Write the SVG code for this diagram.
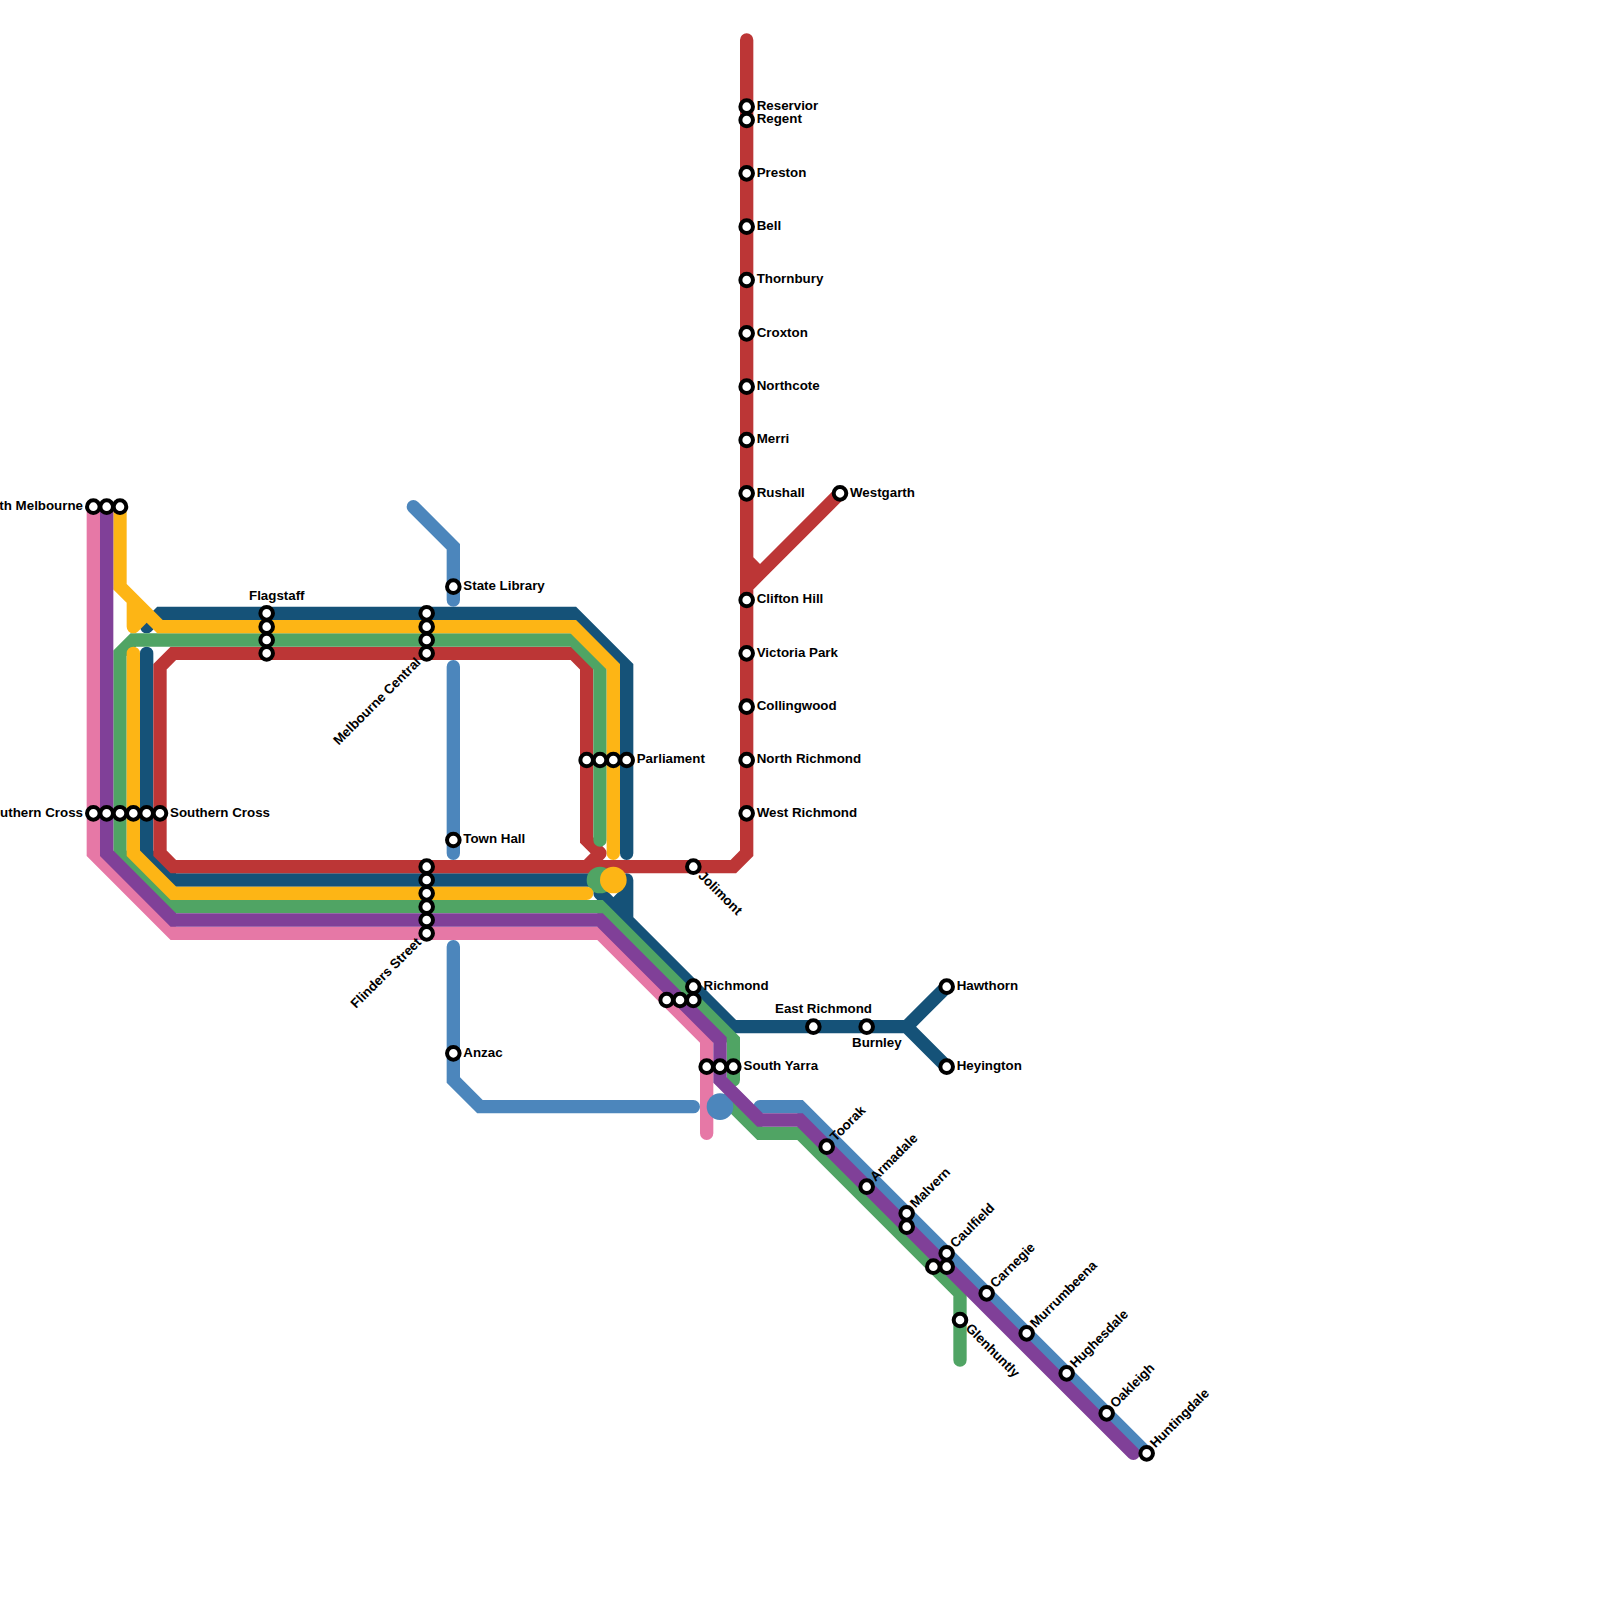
<svg xmlns="http://www.w3.org/2000/svg" width="1600" height="1600" viewBox="0 0 1600 1600">
<style>
.l{fill:none;stroke-width:1;stroke-linecap:round;stroke-linejoin:miter;stroke-miterlimit:10}
.navy{stroke:#155278}.pink{stroke:#E678A6}.blue{stroke:#4C86BC}.red{stroke:#BC3636}.green{stroke:#50A464}.yellow{stroke:#FDB515}.purple{stroke:#804098}
.s{fill:#fff;stroke:#000;stroke-width:4}
text{font-family:"Liberation Sans",Arial,sans-serif;font-weight:700;font-size:13.33px;fill:#000}
.e{text-anchor:end}
</style>
<rect width="1600" height="1600" fill="#fff"/>
<g id="connectors" transform="scale(13.33333)">
<path class="l navy" d="M11 49V64L13 66H45M11 47L12 46H43L47 50V64M47 66V69L55 77H68M71 74L68 77L71 80M45 67L47 69M46 68L47 67"/>
<path class="l pink" d="M7 38V64L13 70H45L53 78V85"/>
<path class="l blue" d="M31 38L34 41V45M34 50V64M34 71V81L36 83H52M57 83H60L86 109"/>
<path class="l red" d="M56 3V64L55 65H44M44 65L45 64M45 64L44 63V50L43 49H13L12 50V64L13 65H44M63 37L56 44M56 42L57 43"/>
<path class="l green" d="M45 63V50L43 48H10L9 49V64L13 68H45L55 78V81M54.5 82.5L57 85H60L72 97V102"/>
<circle cx="45" cy="66" r="1" fill="#50A464"/>
<circle cx="54" cy="83" r="1" fill="#4C86BC"/>
<path class="l yellow" d="M9 38V44L12 47H43L46 50V64M10 45V47M10 47L11 46M10 49V64L13 67H44"/>
<circle cx="46" cy="66" r="1" fill="#FDB515"/>
<path class="l purple" d="M8 38V64L13 69H45L54 78V81L57 84H60L85 109"/>
</g>
<g id="north-melbourne"><circle class="s" cx="93.33" cy="506.67" r="6.3"/><circle class="s" cx="106.67" cy="506.67" r="6.3"/><circle class="s" cx="120" cy="506.67" r="6.3"/><text class="e" x="83" y="510">North Melbourne</text></g>
<g id="southern-cross"><circle class="s" cx="93.33" cy="813.33" r="6.3"/><circle class="s" cx="106.67" cy="813.33" r="6.3"/><circle class="s" cx="120" cy="813.33" r="6.3"/><circle class="s" cx="133.33" cy="813.33" r="6.3"/><circle class="s" cx="146.67" cy="813.33" r="6.3"/><circle class="s" cx="160" cy="813.33" r="6.3"/><text class="e" x="83" y="816.5">Southern Cross</text><text x="170" y="816.5">Southern Cross</text></g>
<g id="flagstaff"><circle class="s" cx="266.67" cy="613.33" r="6.3"/><circle class="s" cx="266.67" cy="626.67" r="6.3"/><circle class="s" cx="266.67" cy="640" r="6.3"/><circle class="s" cx="266.67" cy="653.33" r="6.3"/><text x="249" y="600">Flagstaff</text></g>
<g id="melbourne-central"><circle class="s" cx="426.67" cy="613.33" r="6.3"/><circle class="s" cx="426.67" cy="626.67" r="6.3"/><circle class="s" cx="426.67" cy="640" r="6.3"/><circle class="s" cx="426.67" cy="653.33" r="6.3"/><text class="e" transform="translate(421.5 663) rotate(-45)">Melbourne Central</text></g>
<g id="flinders-street"><circle class="s" cx="426.67" cy="866.67" r="6.3"/><circle class="s" cx="426.67" cy="880" r="6.3"/><circle class="s" cx="426.67" cy="893.33" r="6.3"/><circle class="s" cx="426.67" cy="906.67" r="6.3"/><circle class="s" cx="426.67" cy="920" r="6.3"/><circle class="s" cx="426.67" cy="933.33" r="6.3"/><text class="e" transform="translate(422 943) rotate(-45)">Flinders Street</text></g>
<g id="state-library"><circle class="s" cx="453.33" cy="586.67" r="6.3"/><text x="463.3" y="590">State Library</text></g>
<g id="town-hall"><circle class="s" cx="453.33" cy="840" r="6.3"/><text x="463.3" y="843">Town Hall</text></g>
<g id="anzac"><circle class="s" cx="453.33" cy="1053.33" r="6.3"/><text x="463.3" y="1056.5">Anzac</text></g>
<g id="parliament"><circle class="s" cx="586.67" cy="760" r="6.3"/><circle class="s" cx="600" cy="760" r="6.3"/><circle class="s" cx="613.33" cy="760" r="6.3"/><circle class="s" cx="626.67" cy="760" r="6.3"/><text x="636.7" y="763">Parliament</text></g>
<g id="jolimont"><circle class="s" cx="693.33" cy="866.67" r="6.3"/><text transform="translate(697.5 876.5) rotate(45)">Jolimont</text></g>
<g id="richmond"><circle class="s" cx="693.33" cy="986.67" r="6.3"/><circle class="s" cx="666.67" cy="1000" r="6.3"/><circle class="s" cx="680" cy="1000" r="6.3"/><circle class="s" cx="693.33" cy="1000" r="6.3"/><text x="703.5" y="990">Richmond</text></g>
<g id="south-yarra"><circle class="s" cx="706.67" cy="1066.67" r="6.3"/><circle class="s" cx="720" cy="1066.67" r="6.3"/><circle class="s" cx="733.33" cy="1066.67" r="6.3"/><text x="743.5" y="1070">South Yarra</text></g>
<g id="reservior"><circle class="s" cx="746.67" cy="106.67" r="6.3"/><text x="756.7" y="110">Reservior</text></g>
<g id="regent"><circle class="s" cx="746.67" cy="120" r="6.3"/><text x="756.7" y="123">Regent</text></g>
<g id="preston"><circle class="s" cx="746.67" cy="173.33" r="6.3"/><text x="756.7" y="176.5">Preston</text></g>
<g id="bell"><circle class="s" cx="746.67" cy="226.67" r="6.3"/><text x="756.7" y="230">Bell</text></g>
<g id="thornbury"><circle class="s" cx="746.67" cy="280" r="6.3"/><text x="756.7" y="283">Thornbury</text></g>
<g id="croxton"><circle class="s" cx="746.67" cy="333.33" r="6.3"/><text x="756.7" y="336.5">Croxton</text></g>
<g id="northcote"><circle class="s" cx="746.67" cy="386.67" r="6.3"/><text x="756.7" y="390">Northcote</text></g>
<g id="merri"><circle class="s" cx="746.67" cy="440" r="6.3"/><text x="756.7" y="443">Merri</text></g>
<g id="rushall"><circle class="s" cx="746.67" cy="493.33" r="6.3"/><text x="756.7" y="496.5">Rushall</text></g>
<g id="westgarth"><circle class="s" cx="840" cy="493.33" r="6.3"/><text x="850" y="496.5">Westgarth</text></g>
<g id="clifton-hill"><circle class="s" cx="746.67" cy="600" r="6.3"/><text x="756.7" y="603">Clifton Hill</text></g>
<g id="victoria-park"><circle class="s" cx="746.67" cy="653.33" r="6.3"/><text x="756.7" y="656.5">Victoria Park</text></g>
<g id="collingwood"><circle class="s" cx="746.67" cy="706.67" r="6.3"/><text x="756.7" y="710">Collingwood</text></g>
<g id="north-richmond"><circle class="s" cx="746.67" cy="760" r="6.3"/><text x="756.7" y="763">North Richmond</text></g>
<g id="west-richmond"><circle class="s" cx="746.67" cy="813.33" r="6.3"/><text x="756.7" y="816.5">West Richmond</text></g>
<g id="east-richmond"><circle class="s" cx="813.33" cy="1026.67" r="6.3"/><text x="775" y="1013">East Richmond</text></g>
<g id="burnley"><circle class="s" cx="866.67" cy="1026.67" r="6.3"/><text x="852" y="1047">Burnley</text></g>
<g id="hawthorn"><circle class="s" cx="946.67" cy="986.67" r="6.3"/><text x="956.7" y="990">Hawthorn</text></g>
<g id="heyington"><circle class="s" cx="946.67" cy="1066.67" r="6.3"/><text x="956.7" y="1070">Heyington</text></g>
<g id="toorak"><circle class="s" cx="826.67" cy="1146.67" r="6.3"/><text transform="translate(835.5 1142) rotate(-45)">Toorak</text></g>
<g id="armadale"><circle class="s" cx="866.67" cy="1186.67" r="6.3"/><text transform="translate(875.5 1182) rotate(-45)">Armadale</text></g>
<g id="malvern"><circle class="s" cx="906.67" cy="1213.33" r="6.3"/><circle class="s" cx="906.67" cy="1226.67" r="6.3"/><text transform="translate(915.5 1208.5) rotate(-45)">Malvern</text></g>
<g id="caulfield"><circle class="s" cx="946.67" cy="1253.33" r="6.3"/><circle class="s" cx="933.33" cy="1266.67" r="6.3"/><circle class="s" cx="946.67" cy="1266.67" r="6.3"/><text transform="translate(955.5 1248.5) rotate(-45)">Caulfield</text></g>
<g id="carnegie"><circle class="s" cx="986.67" cy="1293.33" r="6.3"/><text transform="translate(995.5 1288.5) rotate(-45)">Carnegie</text></g>
<g id="glenhuntly"><circle class="s" cx="960" cy="1320" r="6.3"/><text transform="translate(965 1329) rotate(45)">Glenhuntly</text></g>
<g id="murrumbeena"><circle class="s" cx="1026.67" cy="1333.33" r="6.3"/><text transform="translate(1035.5 1328.5) rotate(-45)">Murrumbeena</text></g>
<g id="hughesdale"><circle class="s" cx="1066.67" cy="1373.33" r="6.3"/><text transform="translate(1075.5 1368.5) rotate(-45)">Hughesdale</text></g>
<g id="oakleigh"><circle class="s" cx="1106.67" cy="1413.33" r="6.3"/><text transform="translate(1115.5 1408.5) rotate(-45)">Oakleigh</text></g>
<g id="huntingdale"><circle class="s" cx="1146.67" cy="1453.33" r="6.3"/><text transform="translate(1155.5 1448.5) rotate(-45)">Huntingdale</text></g>
</svg>
